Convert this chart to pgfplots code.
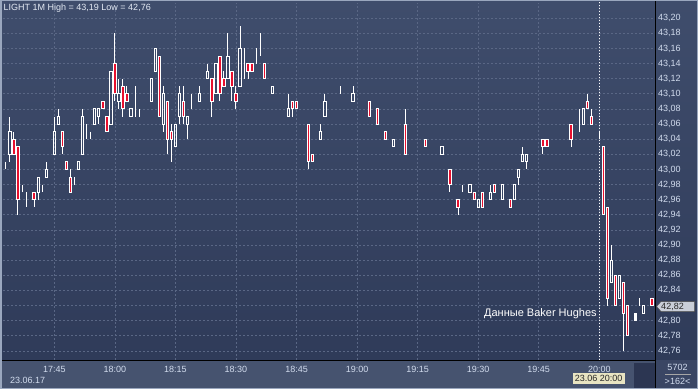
\documentclass[border=0pt]{standalone}
\usepackage{pgfplots}
\pgfplotsset{compat=1.18}
\usepackage{pgfplotstable}
\usepackage{fontspec}
\setmainfont{Liberation Sans}
\definecolor{bgtop}{HTML}{3F4D6C}
\definecolor{bgbot}{HTML}{2F3B59}
\definecolor{gridc}{HTML}{5A6785}
\definecolor{lbl}{HTML}{D2DCEE}
\definecolor{ttl}{HTML}{E4EAF4}
\definecolor{panel}{HTML}{46536F}
\definecolor{rpanel}{HTML}{3A4664}
\definecolor{framec}{HTML}{9AA7BE}
\definecolor{candred}{HTML}{E8102E}
\definecolor{darkbox}{HTML}{2C3652}
\definecolor{tagc}{HTML}{C9CED8}
\definecolor{datebox}{HTML}{E8E4C2}

\pgfplotstableread{
t o h l c
-12 43.01 43.01 43.00 43.01
-11 43.02 43.07 43.01 43.05
-10 43.04 43.05 43.02 43.02
-9 43.03 43.03 42.94 42.96
-8 42.97 42.98 42.97 42.97
-7 42.97 42.97 42.95 42.97
-6 42.98 42.98 42.98 42.98
-5 42.97 42.97 42.95 42.96
-4 42.97 42.99 42.96 42.99
-3 42.98 42.98 42.97 42.98
-2 42.99 43.01 42.99 43.00
0 43.02 43.07 43.02 43.05
1 43.06 43.08 43.06 43.07
2 43.05 43.05 43.02 43.03
3 43.01 43.01 43.00 43.00
4 42.99 43.00 42.97 42.97
5 42.98 42.99 42.98 42.98
6 43.00 43.01 43.00 43.01
7 43.02 43.08 43.02 43.07
8 43.06 43.06 43.04 43.06
9 43.05 43.05 43.04 43.05
10 43.06 43.08 43.06 43.08
11 43.07 43.08 43.06 43.08
12 43.09 43.09 43.08 43.08
13 43.07 43.07 43.05 43.05
14 43.06 43.13 43.06 43.13
15 43.14 43.18 43.09 43.10
16 43.09 43.12 43.08 43.10
17 43.11 43.12 43.07 43.08
18 43.10 43.11 43.09 43.09
19 43.07 43.08 43.07 43.08
20 43.09 43.11 43.07 43.09
21 43.08 43.08 43.07 43.08
24 43.09 43.12 43.09 43.12
25 43.13 43.16 43.13 43.16
26 43.15 43.15 43.07 43.07
27 43.06 43.11 43.05 43.10
28 43.09 43.09 43.02 43.04
29 43.05 43.06 43.01 43.04
30 43.03 43.06 43.03 43.06
31 43.07 43.11 43.06 43.10
32 43.09 43.11 43.06 43.07
33 43.06 43.07 43.04 43.07
34 43.09 43.10 43.08 43.09
35 43.10 43.10 43.10 43.10
36 43.09 43.11 43.09 43.10
38 43.12 43.14 43.12 43.13
39 43.12 43.12 43.07 43.09
40 43.10 43.14 43.10 43.14
41 43.15 43.15 43.09 43.10
42 43.12 43.13 43.11 43.11
43 43.12 43.18 43.12 43.15
44 43.13 43.13 43.09 43.11
45 43.10 43.11 43.08 43.09
46 43.11 43.19 43.11 43.16
47 43.15 43.16 43.12 43.15
48 43.14 43.14 43.12 43.13
49 43.14 43.14 43.13 43.13
50 43.15 43.16 43.14 43.15
51 43.16 43.18 43.15 43.16
52 43.14 43.14 43.12 43.12
53 43.11 43.11 43.11 43.11
54 43.10 43.11 43.10 43.11
55 43.09 43.09 43.09 43.09
56 43.10 43.10 43.10 43.10
57 43.08 43.08 43.08 43.08
58 43.07 43.10 43.07 43.08
59 43.09 43.09 43.07 43.08
60 43.09 43.09 43.08 43.08
62 43.07 43.07 43.07 43.07
63 43.06 43.06 43.00 43.01
64 43.02 43.02 43.01 43.01
65 43.03 43.03 43.03 43.03
66 43.04 43.06 43.04 43.05
67 43.07 43.10 43.07 43.09
69 43.11 43.11 43.11 43.11
70 43.12 43.12 43.12 43.12
71 43.11 43.11 43.10 43.11
72 43.10 43.10 43.10 43.10
74 43.09 43.11 43.09 43.10
75 43.12 43.12 43.12 43.12
76 43.11 43.11 43.11 43.11
77 43.10 43.10 43.10 43.10
78 43.09 43.09 43.07 43.07
80 43.08 43.08 43.06 43.06
81 43.07 43.07 43.07 43.07
82 43.05 43.05 43.04 43.04
83 43.05 43.05 43.05 43.05
84 43.03 43.04 43.03 43.04
86 43.05 43.05 43.05 43.05
87 43.06 43.08 43.02 43.02
88 43.03 43.03 43.03 43.03
92 43.04 43.04 43.03 43.03
96 43.02 43.03 43.02 43.03
97 43.01 43.01 43.01 43.01
98 43.00 43.00 42.97 42.98
100 42.96 42.96 42.94 42.95
101 42.97 42.98 42.97 42.97
102 42.96 42.96 42.96 42.96
103 42.97 42.98 42.97 42.98
104 42.97 42.97 42.96 42.96
105 42.95 42.96 42.95 42.96
106 42.97 42.97 42.95 42.95
107 42.96 42.96 42.96 42.96
108 42.96 42.98 42.96 42.97
109 42.98 42.98 42.97 42.97
111 42.96 42.98 42.96 42.98
112 42.97 42.97 42.97 42.97
113 42.96 42.96 42.95 42.95
114 42.96 42.98 42.96 42.98
115 42.99 43.00 42.98 43.00
116 43.01 43.03 43.01 43.02
117 43.01 43.02 43.00 43.02
118 43.03 43.03 43.03 43.03
119 43.04 43.04 43.04 43.04
120 43.05 43.05 43.05 43.05
121 43.04 43.04 43.02 43.03
122 43.04 43.04 43.03 43.03
126 43.05 43.05 43.05 43.05
127 43.04 43.04 43.04 43.04
128 43.06 43.06 43.03 43.04
130 43.05 43.08 43.05 43.05
131 43.06 43.08 43.06 43.08
132 43.09 43.10 43.08 43.08
133 43.07 43.08 43.06 43.06
134 43.07 43.07 43.07 43.07
135 43.05 43.05 43.04 43.05
136 43.03 43.03 42.94 42.94
137 42.95 42.95 42.82 42.83
138 42.85 42.90 42.85 42.88
139 42.86 42.86 42.82 42.82
140 42.83 42.86 42.83 42.86
141 42.85 42.85 42.76 42.81
142 42.82 42.82 42.78 42.78
143 42.79 42.79 42.79 42.79
144 42.80 42.80 42.80 42.81
145 42.82 42.83 42.82 42.82
146 42.81 42.82 42.81 42.82
148 42.83 42.83 42.82 42.82
}\candles

\pgfplotsset{
  chartaxis/.style={
    at={(3pt,29pt)}, anchor=south west,
    width=652pt, height=357pt, scale only axis,
    xmin=-12.71, xmax=148.8, ymin=42.748, ymax=43.2201,
    axis line style={draw=none},
  }
}

\begin{document}
\begin{tikzpicture}[x=1pt,y=1pt]
\useasboundingbox (0,0) rectangle (698,389);
% panels
\shade[top color=bgtop, bottom color=bgbot] (0,29) rectangle (698,389);
\fill[panel] (0,0) rectangle (655,29);
\fill[rpanel] (655,0) rectangle (698,29);
\fill[darkbox] (634,0) rectangle (655,26.5);

\begin{axis}[chartaxis,
  xtick={0,15,30,45,60,75,90,105,120,135},
  xticklabels={17:45,18:00,18:15,18:30,18:45,19:00,19:15,19:30,19:45,20:00},
  ytick={42.76,42.78,42.80,42.84,42.86,42.88,42.90,42.92,42.94,42.96,42.98,43.00,43.02,43.04,43.06,43.08,43.10,43.12,43.14,43.16,43.18,43.20},
  extra y ticks={42.82},
  extra y tick labels={},
  extra tick style={grid=major},
  yticklabel pos=right,
  grid=major,
  major grid style={gridc, dash pattern=on 2pt off 2pt, line width=0.7pt},
  major tick length=0pt,
  tick label style={font=\fontsize{9}{10}\selectfont, text=lbl},
  xticklabel style={anchor=base, yshift=-12pt},
  yticklabel style={anchor=west, inner xsep=3pt,
    /pgf/number format/fixed, /pgf/number format/fixed zerofill,
    /pgf/number format/precision=2, /pgf/number format/use comma,
    /pgf/number format/assume math mode=true},
]
% upper wicks
\addplot[draw=none, mark=none, error bars/.cd, y dir=plus, y explicit, error mark=none,
  error bar style={draw=white, line width=1pt}]
  table[x=t, y expr={max(\thisrow{o},\thisrow{c})}, y error plus expr={\thisrow{h}-max(\thisrow{o},\thisrow{c})}] {\candles};
% lower wicks
\addplot[draw=none, mark=none, error bars/.cd, y dir=minus, y explicit, error mark=none,
  error bar style={draw=white, line width=1pt}]
  table[x=t, y expr={min(\thisrow{o},\thisrow{c})}, y error minus expr={min(\thisrow{o},\thisrow{c})-\thisrow{l}}] {\candles};
% 20:00 marker line
\addplot[white, dash pattern=on 1.5pt off 1.5pt, line width=0.8pt] coordinates {(135,42.70) (135,43.25)};
\node[anchor=east, text=white, font=\fontsize{11}{13}\selectfont, inner sep=0pt] at (axis cs:134.4,42.809) {Данные Baker Hughes};
\end{axis}

\begin{axis}[chartaxis, hide axis, ybar stacked, bar width=2.4pt]
\addplot[draw=none, fill=none] table[x=t, y expr={min(\thisrow{o},\thisrow{c})}] {\candles};
\addplot[draw=white, fill=candred, line width=0.9pt] table[x=t, y expr={max(\thisrow{o}-\thisrow{c},0)}] {\candles};
\addplot[draw=white, fill=none, line width=0.9pt] table[x=t, y expr={max(\thisrow{c}-\thisrow{o},0)}] {\candles};
\end{axis}

% separators and frame
\draw[black, line width=1.2pt] (655.5,0) -- (655.5,389);
\draw[black, line width=1.2pt] (0,28.5) -- (655.5,28.5);
\draw[framec, line width=1.5pt] (0.75,0.75) rectangle (697.25,388.25);

% title
\node[anchor=base west, inner sep=0pt, text=ttl, font=\fontsize{9}{10}\selectfont] at (3.5,378) {LIGHT 1M High = 43,19 Low = 42,76};
% date
\node[anchor=base west, inner sep=0pt, text=lbl, font=\fontsize{9}{10}\selectfont] at (10,5.7) {23.06.17};
% cursor date box
\fill[datebox] (572.7,4.8) rectangle (624.7,16.3);
\node[anchor=base, inner sep=0pt, text=black!85, font=\fontsize{9}{10}\selectfont] at (598.7,7.2) {23.06 20:00};
% right bottom counters
\node[anchor=base, inner sep=0pt, text=lbl, font=\fontsize{9}{10}\selectfont] at (677.5,18.3) {5702};
\draw[gray!70, line width=0.6pt] (665,15) -- (691,15);
\node[anchor=base, inner sep=0pt, text=lbl, font=\fontsize{9}{10}\selectfont] at (677.5,4.7) {>162<};
% current price tag
\filldraw[fill=tagc, draw=gray!60!black, line width=0.5pt] (656.5,82.5) -- (661,87.5) -- (694.5,87.5) -- (694.5,77.5) -- (661,77.5) -- cycle;
\node[inner sep=0pt, text=black!85, font=\fontsize{9}{10}\selectfont] at (672.5,82.5) {42,82};
\end{tikzpicture}
\end{document}
